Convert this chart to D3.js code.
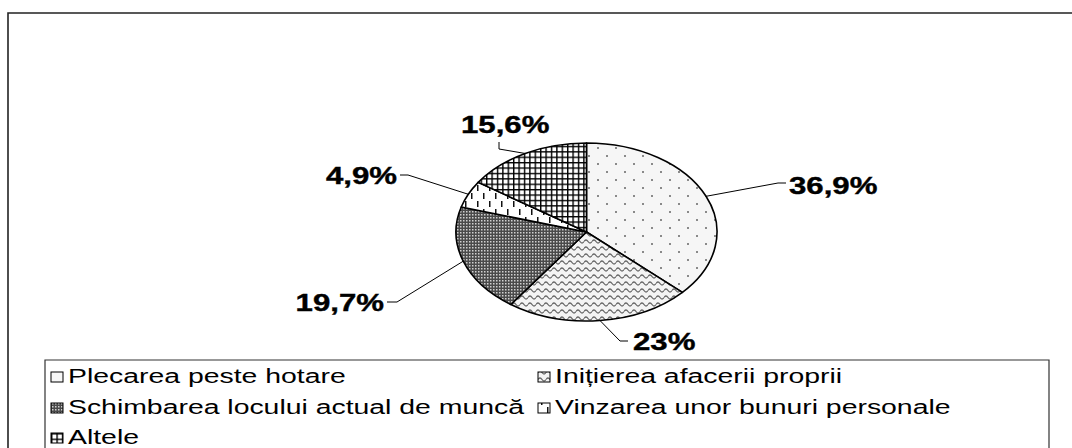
<!DOCTYPE html>
<html>
<head>
<meta charset="utf-8">
<title>Pie chart</title>
<script src="https://cdnjs.cloudflare.com/ajax/libs/d3/7.8.5/d3.min.js"></script>
<style>
  body { margin: 0; background: #fff; }
  text { font-family: "Liberation Sans", Arial, sans-serif; fill: #000; }
  .pct { font-weight: bold; font-size: 24px; stroke: #000; stroke-width: 0.4px; }
  .leg { font-size: 20px; }
</style>
</head>
<body>
<svg id="viz" width="1072" height="448"></svg>
<script>

// data
var categories = ["Plecarea peste hotare", "Inițierea afacerii proprii",
                  "Schimbarea locului actual de muncă", "Vinzarea unor bunuri personale",
                  "Altele"];
var values = [36.9, 23, 19.7, 4.9, 15.6];
var labels = ["36,9%", "23%", "19,7%", "4,9%", "15,6%"];
var patterns = ["dots", "waves", "darkgrid", "dashes", "grid"];

// label layout: elbow point, line end, text anchor point
var labelLayout = [
  { ex: 778, ey: 183, lx: 786, ly: 183, anchor: "start", tx: 789, ty: 194 },
  { ex: 620, ey: 341, lx: 628, ly: 341, anchor: "start", tx: 633, ty: 350 },
  { ex: 397, ey: 302, lx: 387, ly: 302, anchor: "end",   tx: 384, ty: 311 },
  { ex: 408, ey: 175, lx: 400, ly: 175, anchor: "end",   tx: 397, ty: 184 },
  { ex: 499, ey: 149, lx: 499, ly: 142, anchor: "start", tx: 461, ty: 133 }
];

var svg = d3.select("#viz");
var sxPct = 1.3;   // the source picture is stretched horizontally
var sxLeg = 1.42;

// ---- patterns
var defs = svg.append("defs");

var p = defs.append("pattern").attr("id", "dots").attr("patternUnits", "userSpaceOnUse")
  .attr("width", 18).attr("height", 16);
p.append("rect").attr("width", 18).attr("height", 16).attr("fill", "#f6f6f6");
p.append("circle").attr("cx", 4).attr("cy", 4).attr("r", 1).attr("fill", "#666");
p.append("circle").attr("cx", 13).attr("cy", 12).attr("r", 1).attr("fill", "#666");

p = defs.append("pattern").attr("id", "waves").attr("patternUnits", "userSpaceOnUse")
  .attr("width", 8).attr("height", 7);
p.append("rect").attr("width", 8).attr("height", 7).attr("fill", "#f4f4f4");
p.append("path").attr("d", "M0,3.5 Q2,0.5 4,3.5 T8,3.5").attr("fill", "none")
  .attr("stroke", "#666").attr("stroke-width", 1.3);

p = defs.append("pattern").attr("id", "darkgrid").attr("patternUnits", "userSpaceOnUse")
  .attr("width", 3).attr("height", 3);
p.append("rect").attr("width", 3).attr("height", 3).attr("fill", "#4a4a4a");
p.append("rect").attr("x", 1).attr("y", 1).attr("width", 1.5).attr("height", 1.5).attr("fill", "#d0d0d0");

p = defs.append("pattern").attr("id", "dashes").attr("patternUnits", "userSpaceOnUse")
  .attr("width", 12).attr("height", 16);
p.append("rect").attr("width", 12).attr("height", 16).attr("fill", "#fff");
p.append("rect").attr("x", 3).attr("y", 1).attr("width", 1.5).attr("height", 6).attr("fill", "#111");
p.append("rect").attr("x", 9).attr("y", 9).attr("width", 1.5).attr("height", 6).attr("fill", "#111");

p = defs.append("pattern").attr("id", "grid").attr("patternUnits", "userSpaceOnUse")
  .attr("width", 5.4).attr("height", 5.4);
p.append("rect").attr("width", 5.4).attr("height", 5.4).attr("fill", "#fff");
p.append("path").attr("d", "M0,0.7H5.4M0.7,0V5.4").attr("stroke", "#000").attr("stroke-width", 1.4);

// ---- outer frame (right and bottom edges fall outside the picture)
svg.append("path")
  .attr("d", "M8,448V13H1072")
  .attr("fill", "none").attr("stroke", "#222").attr("stroke-width", 1.6);

// ---- pie (ellipse)
var cx = 586.5, cy = 232, rx = 130.5, ry = 89;

var pie = d3.pie().sort(null).value(function(d) { return d; });
var arcs = pie(values);

function pt(a) { return [cx + rx * Math.sin(a), cy - ry * Math.cos(a)]; }

function slicePath(d) {
  var p0 = pt(d.startAngle), p1 = pt(d.endAngle);
  var large = (d.endAngle - d.startAngle) > Math.PI ? 1 : 0;
  return "M" + cx + "," + cy + "L" + p0[0] + "," + p0[1] +
         "A" + rx + "," + ry + " 0 " + large + " 1 " + p1[0] + "," + p1[1] + "Z";
}

svg.append("g").selectAll("path")
  .data(arcs)
  .enter().append("path")
  .attr("d", slicePath)
  .attr("fill", function(d, i) { return "url(#" + patterns[i] + ")"; })
  .attr("stroke", "#000")
  .attr("stroke-width", 1.6)
  .attr("stroke-linejoin", "round");

// ---- leader lines and labels
var lab = svg.append("g");
arcs.forEach(function(d, i) {
  var m = pt((d.startAngle + d.endAngle) / 2);
  var L = labelLayout[i];
  lab.append("polyline")
    .attr("points", [m, [L.ex, L.ey], [L.lx, L.ly]].map(function(q) { return q.join(","); }).join(" "))
    .attr("fill", "none").attr("stroke", "#000").attr("stroke-width", 1);
  lab.append("text")
    .attr("class", "pct")
    .attr("transform", "translate(" + L.tx + "," + L.ty + ") scale(" + sxPct + ",1)")
    .style("text-anchor", L.anchor)
    .text(labels[i]);
});

// ---- legend
svg.append("path")
  .attr("d", "M45,448V360H1049V448")
  .attr("fill", "none").attr("stroke", "#333").attr("stroke-width", 1.2);

var legCol = [51, 538];
var legRow = [383, 414, 444];

var leg = svg.append("g").selectAll("g")
  .data(categories)
  .enter().append("g")
  .attr("transform", function(d, i) {
    return "translate(" + legCol[i % 2] + "," + legRow[Math.floor(i / 2)] + ")";
  });

leg.append("rect")
  .attr("x", 0).attr("y", -11)
  .attr("width", 12).attr("height", 10)
  .attr("fill", function(d, i) { return "url(#" + patterns[i] + ")"; })
  .attr("stroke", "#000").attr("stroke-width", 1);

leg.append("text")
  .attr("class", "leg")
  .attr("transform", "translate(17,0) scale(" + sxLeg + ",1)")
  .text(function(d) { return d; });

</script>
</body>
</html>
